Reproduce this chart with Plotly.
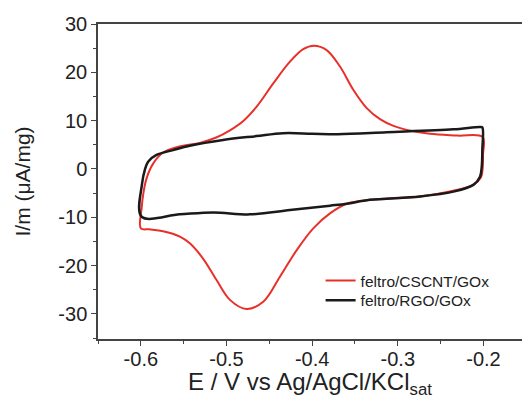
import plotly.graph_objects as go

# feltro/CSCNT/GOx (red) closed CV loop
E_red = [-0.600, -0.599, -0.597, -0.5934, -0.586, -0.574, -0.554, -0.531, -0.512,
         -0.496, -0.480, -0.4648, -0.4454, -0.4259, -0.4104, -0.398, -0.3831,
         -0.3675, -0.352, -0.3363, -0.3208, -0.305, -0.285, -0.2624, -0.230,
         -0.201, -0.2005, -0.201, -0.203, -0.2118, -0.2352, -0.274, -0.3325,
         -0.3597, -0.3792, -0.3987, -0.418, -0.4376, -0.4571, -0.4765, -0.496,
         -0.5116, -0.5272, -0.5428, -0.5544, -0.574, -0.590, -0.600]
I_red = [-12.3, -8.0, -5.0, -2.0, 1.0, 3.4, 4.7, 5.4, 6.5,
         8.0, 10.0, 12.9, 17.7, 22.2, 24.8, 25.5, 24.6,
         21.2, 16.4, 12.6, 10.3, 8.9, 7.9, 7.3, 6.9,
         6.6, 3.0, 0.0, -1.8, -3.3, -4.5, -5.7, -6.4,
         -7.2, -9.2, -12.3, -16.8, -22.3, -27.5, -29.0, -27.1,
         -23.0, -18.6, -15.4, -14.0, -12.9, -12.5, -12.3]

# feltro/RGO/GOx (black) closed CV loop
E_blk = [-0.599, -0.5985, -0.5953, -0.5915, -0.5817, -0.5622, -0.5428, -0.504,
         -0.465, -0.434, -0.400, -0.370, -0.313, -0.2352, -0.204, -0.2013,
         -0.2013, -0.202, -0.204, -0.2118, -0.2352, -0.274, -0.3325, -0.3597,
         -0.379, -0.4259, -0.4727, -0.5155, -0.5544, -0.599]
I_blk = [-9.9, -3.0, -0.2, 1.5, 2.9, 3.9, 4.8, 6.0,
         6.8, 7.4, 7.3, 7.2, 7.6, 8.2, 8.7, 8.6,
         4.0, 0.5, -1.6, -3.3, -4.7, -5.7, -6.4, -7.2,
         -7.6, -8.5, -9.4, -9.0, -9.4, -9.9]

names = ["feltro/CSCNT/GOx", "feltro/RGO/GOx"]
colors = ["#e8302a", "#1a1a1a"]

x_tickvals = [-0.6, -0.5, -0.4, -0.3, -0.2]
x_ticktext = ["-0.6", "-0.5", "-0.4", "-0.3", "-0.2"]
y_tickvals = [-30, -20, -10, 0, 10, 20, 30]
y_ticktext = ["-30", "-20", "-10", "0", "10", "20", "30"]

fig = go.Figure()
fig.add_trace(go.Scatter(x=E_red, y=I_red, mode="lines", name=names[0], legend="legend",
                         line=dict(color=colors[0], width=2, shape="spline", smoothing=1.0)))
fig.add_trace(go.Scatter(x=E_blk, y=I_blk, mode="lines", name=names[1], legend="legend2",
                         line=dict(color=colors[1], width=2.5, shape="spline", smoothing=1.0)))

axis_col = "#444444"
leg_common = dict(x=0.525, xanchor="left", yanchor="middle",
                  font=dict(size=15.5, color="#222222"), bgcolor="rgba(0,0,0,0)",
                  borderwidth=0)
fig.update_layout(
    width=522, height=399,
    margin=dict(l=98, r=0, t=24, b=60),
    paper_bgcolor="white", plot_bgcolor="white",
    font=dict(family="Liberation Sans, Arial, sans-serif", color="#222222"),
    showlegend=True,
    legend=dict(y=0.184, **leg_common),
    legend2=dict(y=0.122, **leg_common),
    xaxis=dict(range=[-0.65, -0.155], tickvals=x_tickvals, ticktext=x_ticktext,
               automargin=False, ticklabelstandoff=-4,
               showgrid=False, zeroline=False, showline=True, linecolor=axis_col,
               linewidth=1.5, mirror=True, ticks="outside", ticklen=5, tickwidth=1.2,
               tickcolor=axis_col, tickfont=dict(size=20),
               minor=dict(ticks="outside", dtick=0.05, tick0=0, ticklen=3,
                          tickcolor=axis_col, tickwidth=1.2),
               title=dict(text="E / V vs Ag/AgCl/KCl<sub>sat</sub>",
                          font=dict(size=24), standoff=9)),
    yaxis=dict(range=[-35.2, 30], tickvals=y_tickvals, ticktext=y_ticktext,
               automargin=False,
               showgrid=False, zeroline=False, showline=True, linecolor=axis_col,
               linewidth=1.5, ticks="outside", ticklen=5, tickwidth=1.2,
               tickcolor=axis_col, tickfont=dict(size=20),
               minor=dict(ticks="outside", dtick=5, tick0=0, ticklen=3,
                          tickcolor=axis_col, tickwidth=1.2),
               title=dict(text="I/m (μA/mg)", font=dict(size=21), standoff=22)),
)

fig.write_html("out.html", config={"displayModeBar": False},
               post_script="document.body.style.margin='0';document.body.style.overflow='hidden';")
